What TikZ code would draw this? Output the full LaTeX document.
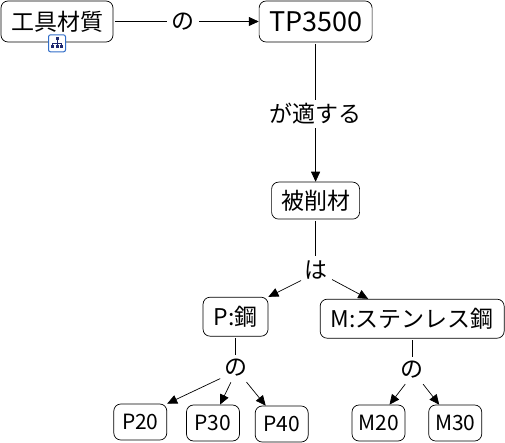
\documentclass[tikz,border=0pt]{standalone}
\usepackage{fontspec}
\setmainfont{Noto Sans CJK JP}
\usetikzlibrary{arrows.meta, positioning}
\definecolor{iconblue}{RGB}{50, 110, 200}
\definecolor{icondark}{RGB}{30, 40, 110}

\begin{document}
\begin{tikzpicture}[
  x=1pt, y=-1pt,
  term/.style={rectangle, rounded corners=7pt, draw=black, fill=white, line width=0.7pt,
               inner sep=0pt, align=center, font=\fontsize{23}{27}\selectfont},
  code/.style={term, font=\fontsize{21}{25}\selectfont},
  link/.style={inner sep=0pt, minimum width=30pt, minimum height=26pt,
               font=\fontsize{23}{27}\selectfont},
  line/.style={line width=0.7pt, shorten <=1.5pt},
  arrow/.style={line, -{Triangle[length=10pt, width=9pt]}},
]
  \useasboundingbox (0,0) rectangle (505,443);

  % Top row
  \node[term, minimum width=112pt, minimum height=41pt] (material) at (57,21.5) {工具材質};
  \node[link, right=54pt of material] (of) {の};
  \node[term, font=\fontsize{27}{30}\selectfont, minimum width=113pt, minimum height=41pt,
        right=61pt of of] (tp) {TP3500};
  % Icon under the first term
  \node[rectangle, rounded corners=2pt, draw=iconblue, fill=white, line width=1pt,
        minimum size=17pt, inner sep=0pt, below=-8pt of material] (icon) {};
  \begin{scope}[shift={(icon.center)}]
    \draw[icondark, line width=0.5pt] (0,-5) -- (0,3) (-4.5,3) -- (-4.5,0) -- (4.5,0) -- (4.5,3);
    \foreach \bx/\by in {0/-5, -4.5/3.5, 0/3, 4.5/3.5}
      \fill[icondark] (\bx-1.5,\by-1.5) rectangle (\bx+1.5,\by+1.5);
  \end{scope}

  % Middle column
  \node[link, minimum width=100pt, below=58pt of tp] (suit) {が適する};
  \node[term, minimum width=88pt, minimum height=37pt, below=55pt of suit] (work) {被削材};
  \node[link, below=37pt of work] (ha) {は};

  % Steel groups
  \node[term, minimum width=65pt, minimum height=39pt, below left=14pt and 32pt of ha] (steel) {P:鋼};
  \node[term, minimum width=184pt, minimum height=39pt, below right=16pt and -11pt of ha] (stainless) {M:ステンレス鋼};
  \node[link, below=18pt of steel] (ofp) {の};
  \node[link, below=18pt of stainless] (ofm) {の};

  % Grades
  \node[code, minimum width=53pt, minimum height=36pt] (p30) at (213,423) {P30};
  \node[code, minimum width=53pt, minimum height=36pt, left=19pt of p30, yshift=1pt] (p20) {P20};
  \node[code, minimum width=53pt, minimum height=36pt, right=15pt of p30, yshift=-1pt] (p40) {P40};
  \node[code, minimum width=53pt, minimum height=36pt] (m20) at (378.5,423) {M20};
  \node[code, minimum width=53pt, minimum height=36pt, right=23pt of m20] (m30) {M30};

  % Arrows
  \draw[line] (material) -- (of);
  \draw[arrow] (of) -- (tp);
  \draw[line] (tp) -- (suit);
  \draw[arrow] (suit) -- (work);
  \draw[line] (work) -- (ha);
  \draw[arrow] ([xshift=2pt,yshift=3pt]ha.south west) -- (steel.north east);
  \draw[arrow] ([yshift=4pt]ha.south east) -- ([xshift=-44pt]stainless.north);
  \draw[line] (steel) -- (ofp);
  \draw[line] (stainless) -- (ofm);
  \draw[arrow] ([xshift=-14pt,yshift=3pt]ofp.south) -- (p20.north east);
  \draw[arrow] ([xshift=-4pt]ofp.south) -- ([xshift=7pt]p30.north);
  \draw[arrow] ([xshift=10pt]ofp.south) -- ([xshift=-16pt]p40.north);
  \draw[arrow] ([xshift=-6pt]ofm.south) -- ([xshift=11pt]m20.north);
  \draw[arrow] ([xshift=10pt]ofm.south) -- ([xshift=-16pt]m30.north);
\end{tikzpicture}
\end{document}
